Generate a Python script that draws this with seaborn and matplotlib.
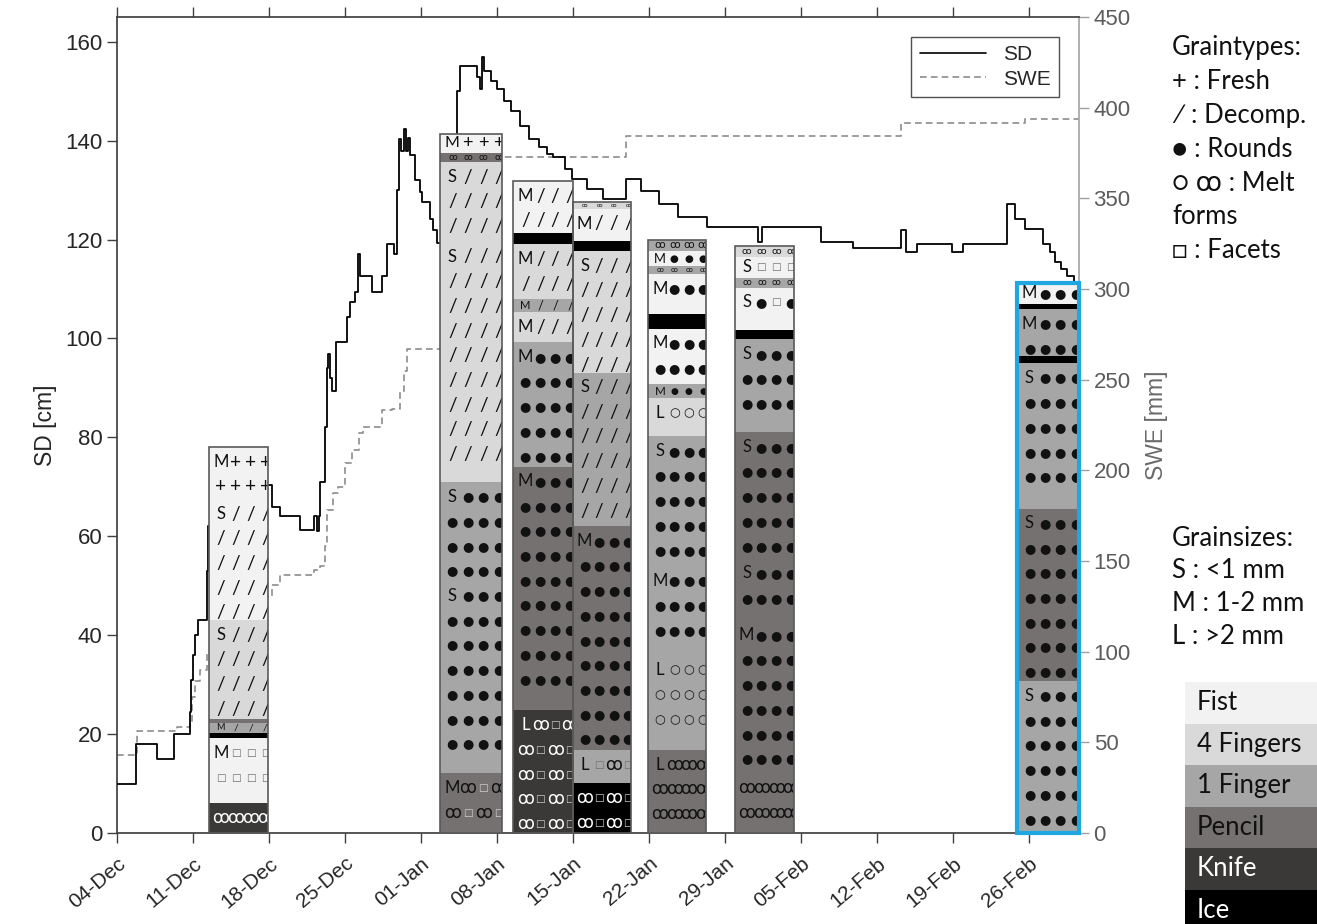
import pandas as pd
import matplotlib
matplotlib.use("Agg")
import matplotlib.pyplot as plt
import matplotlib.dates as mdates
from matplotlib.patches import Rectangle
from matplotlib.lines import Line2D
from matplotlib.transforms import Bbox, TransformedBbox
import seaborn as sns

START = pd.Timestamp("2017-12-04")

# ---- automatic station series (days after 04-Dec) ----
sd_days = [0, 1.75, 3.7, 5.25, 6.7, 6.85, 7.0, 7.2, 7.45, 8.25, 8.4, 9.5, 11.0, 12.5,
           13.8, 14.25, 15.0, 16.85, 18.1, 18.45, 18.6, 18.7, 19.15, 19.3, 19.45, 19.6,
           19.8, 20.2, 21.2, 21.45, 21.9, 22.2, 22.4, 23.5, 24.4, 24.9, 25.5, 25.8, 25.95,
           26.15, 26.4, 26.6, 26.8, 27.0, 27.4, 27.9, 28.1, 28.8, 29.1, 29.5, 31.35, 31.6,
           33.15, 33.4, 33.6, 33.8, 34.4, 35.0, 35.6, 36.3, 37.1, 37.9, 38.9, 39.6, 40.2,
           41.3, 41.9, 43.3, 44.8, 46.9, 48.3, 49.9, 51.7, 54.3, 59.0, 59.4, 64.8, 67.8,
           72.2, 72.7, 73.7, 76.9, 77.9, 82.0, 82.7, 83.6, 85.3, 85.9, 86.4, 86.9, 87.5,
           88.1, 88.6]
sd_cm = [10, 18, 15, 20, 24.5, 31, 36, 40, 43, 53, 62, 67, 70, 71,
         70.4, 66, 64, 61.2, 64, 61, 64, 71, 82, 94, 96.8, 92,
         89.3, 99.2, 104.3, 107.3, 109.4, 117, 112.6, 109.3, 112.6, 119, 117, 130, 140.3,
         138, 142.4, 138, 140.5, 137, 132, 129.6, 127.5, 124.2, 122, 119.4, 150, 155,
         152.8, 150.4, 157, 154, 152, 150.4, 148, 146, 143, 140.3, 138.7, 137.3, 136.7,
         134.3, 132.2, 130.2, 128.2, 132.2, 129.8, 127.2, 124.5, 122.5, 119.5, 122.5, 119.5, 118.3,
         122, 117.4, 119, 117.4, 119, 127.2, 124.2, 122.1, 119, 117.4, 115.4, 114, 112.6,
         111, 111]

swe_days = [0, 1.8, 5.5, 6.7, 6.95, 7.2, 7.6, 8.3, 10, 12, 14.3, 15.0, 18.1, 18.7, 19.2,
            19.3, 19.9, 20.4, 21.0, 21.6, 22.3, 22.7, 24.4, 25.3, 26.1, 26.4, 26.7, 29.6,
            31.4, 46.9, 72.2, 83.6, 88.6]
swe_mm = [43, 56, 58.5, 61, 75, 84, 90, 100, 118, 130, 137, 142.3, 145, 147, 158,
          178, 187.5, 191, 204, 211, 220.6, 224, 233, 234, 244, 255, 267, 267,
          373, 384.5, 391.6, 394, 394]

# ---- hand hardness classes ----
hardness_codes = ["F", "4F", "1F", "P", "K", "I"]
hardness_names = ["Fist", "4 Fingers", "1 Finger", "Pencil", "Knife", "Ice"]
hardness_colors = ["#f2f2f2", "#d9d9d9", "#a6a6a6", "#767171", "#3b3838", "#000000"]

# ---- manual snow profiles: (bottom cm, top cm, hardness, grain size, grain symbols) ----
profile_start_days = [8.45, 29.75, 36.5, 42.0, 48.95, 56.9, 82.9]
profile_width_days = [5.5, 5.7, 5.5, 5.35, 5.3, 5.45, 5.7]
profile_highlight = [False, False, False, False, False, False, True]

layers_dec12 = [(0, 6, "K", "", "ꝏ"), (6, 19.2, "F", "M", "□"), (19.2, 20.2, "I", "", ""),
                (20.2, 22.3, "1F", "M", "/"), (22.3, 23.0, "P", "", ""),
                (23.0, 43.0, "4F", "S", "/"), (43.0, 67.5, "F", "S", "/"),
                (67.5, 78.0, "F", "M", "+")]
layers_jan02 = [(0, 12.1, "P", "M", "ꝏ□"), (12.1, 51.0, "1F", "S", "●"),
                (51.0, 71.0, "1F", "S", "●"), (71.0, 119.5, "4F", "S", "/"),
                (119.5, 135.6, "4F", "S", "/"), (135.6, 137.6, "P", "", "ꝏ"),
                (137.6, 141.3, "F", "M", "+")]
layers_jan09 = [(0, 24.8, "K", "L", "ꝏ□"), (24.8, 74.1, "P", "M", "●"),
                (74.1, 99.2, "1F", "M", "●"), (99.2, 105.3, "4F", "M", "/"),
                (105.3, 107.9, "1F", "M", "/"), (107.9, 119.0, "4F", "M", "/"),
                (119.0, 121.4, "I", "", ""), (121.4, 131.8, "F", "M", "/")]
layers_jan15 = [(0, 10.1, "I", "", "ꝏ□"), (10.1, 16.8, "1F", "L", "□ꝏ"),
                (16.8, 62.0, "P", "M", "●"), (62.0, 93.1, "1F", "S", "/"),
                (93.1, 117.6, "4F", "S", "/"), (117.6, 119.8, "I", "", ""),
                (119.8, 126.2, "F", "M", "/"), (126.2, 127.5, "4F", "", "ꝏ")]
layers_jan22 = [(0, 16.8, "P", "L", "ꝏ"), (16.8, 36.0, "1F", "L", "○"),
                (36.0, 54.0, "1F", "M", "●"), (54.0, 80.2, "1F", "S", "●"),
                (80.2, 88.0, "4F", "L", "○"), (88.0, 90.7, "1F", "M", "●"),
                (90.7, 102.0, "F", "M", "●"), (102.0, 104.9, "I", "", ""),
                (104.9, 113.0, "F", "M", "●"), (113.0, 114.6, "1F", "", "ꝏ"),
                (114.6, 117.6, "F", "M", "●"), (117.6, 120.0, "1F", "", "ꝏ")]
layers_jan30 = [(0, 12.0, "P", "", "ꝏ"), (12.0, 43.0, "P", "M", "●"),
                (43.0, 55.5, "P", "S", "●"), (55.5, 81.0, "P", "S", "●"),
                (81.0, 99.8, "1F", "S", "●"), (99.8, 101.8, "I", "", ""),
                (101.8, 110.3, "F", "S", "●□"), (110.3, 112.3, "1F", "", "ꝏ"),
                (112.3, 116.4, "F", "S", "□"), (116.4, 118.6, "4F", "", "ꝏ")]
layers_feb25 = [(0, 30.8, "1F", "S", "●"), (30.8, 65.6, "P", "S", "●"),
                (65.6, 95.0, "1F", "S", "●"), (95.0, 96.5, "I", "", ""),
                (96.5, 106.0, "1F", "M", "●"), (106.0, 106.9, "I", "", ""),
                (106.9, 111.3, "F", "M", "●")]
profile_layers = [layers_dec12, layers_jan02, layers_jan09, layers_jan15,
                  layers_jan22, layers_jan30, layers_feb25]

graintype_lines = ["Graintypes:", "+ : Fresh", "∕ : Decomp.", "● : Rounds",
                   "○ ꝏ : Melt", "forms", "□ : Facets"]
grainsize_lines = ["Grainsizes:", "S : <1 mm", "M : 1-2 mm", "L : >2 mm"]

# ---------------------------------------------------------------------------
W, H = 1317, 924
sns.set_theme(style="ticks")
plt.rcParams["font.family"] = ["Liberation Sans", "DejaVu Sans"]
side_font = ["Lato", "DejaVu Sans", "Noto Sans"]
letter_font = ["Lato", "DejaVu Sans", "Noto Sans"]
shape_font = ["DejaVu Sans", "Noto Sans"]

fig = plt.figure(figsize=(W / 100, H / 100), dpi=100)
ax = fig.add_axes([117 / W, 1 - 833 / H, (1079 - 117) / W, (833 - 17) / H])
ax2 = ax.twinx()
ax.set_zorder(ax2.get_zorder() + 1)
ax.patch.set_visible(False)

to_date = lambda d: START + pd.Timedelta(days=float(d))
sd_df = pd.DataFrame({"date": [to_date(d) for d in sd_days], "sd": sd_cm})
swe_df = pd.DataFrame({"date": [to_date(d) for d in swe_days], "swe": swe_mm})

sns.lineplot(data=sd_df, x="date", y="sd", ax=ax, color="black", lw=1.3,
             drawstyle="steps-post", estimator=None, sort=False, zorder=3)
sns.lineplot(data=swe_df, x="date", y="swe", ax=ax2, color="#8c8c8c", lw=1.2,
             drawstyle="steps-post", estimator=None, sort=False)
ax2.lines[-1].set_dashes([4, 2.5])

# glyph styling inside the profiles: (font list, size factor)
glyph_style = {"●": (shape_font, 0.78), "○": (shape_font, 0.74), "□": (shape_font, 0.62),
               "ꝏ": (shape_font, 1.0), "/": (letter_font, 1.15), "+": (letter_font, 1.15)}

# ---- snow profiles ----
color_of = dict(zip(hardness_codes, hardness_colors))
col_frac = [0.2, 0.45, 0.7, 0.95]
for d0, w, layers, hl in zip(profile_start_days, profile_width_days,
                             profile_layers, profile_highlight):
    x0 = mdates.date2num(to_date(d0))
    top = max(l[1] for l in layers)
    clip = TransformedBbox(Bbox([[x0, 0], [x0 + w, top]]), ax.transData)
    for b, t, h, size, grains in layers:
        ax.bar(x0, t - b, bottom=b, width=w, align="edge", color=color_of[h],
               linewidth=0, zorder=4)
        if not grains:
            continue
        tc = "white" if h in ("K", "I") else "#111111"
        box_c = "#d0d0d0" if h in ("P", "K", "I") else "#707070"
        thick = t - b
        if thick < 5.5:
            rows, fs = [(b + t) / 2], min(12.0, thick * 3.1)
        else:
            rows, fs = [], 12.0
            y = t - 3.0
            while y >= b + 1.5 - 1e-6:
                rows.append(y)
                y -= 5.0
        for r, y in enumerate(rows):
            chars = [grains[i % len(grains)] for i in range(4)]
            if r == 0 and size:
                chars = [size] + chars[:3]
            for c, f in zip(chars, col_frac):
                fam, k = glyph_style.get(c, (letter_font, 1.0))
                txt = ax.text(x0 + f * w, y, c, ha="center", va="center",
                              color=box_c if c == "□" else tc,
                              fontsize=fs * k, family=fam, zorder=5)
                txt.set_clip_box(clip)
                txt.set_clip_on(True)
    ax.add_patch(Rectangle((x0, 0), w, top, fill=False,
                           ec="#1ea7e1" if hl else "#5a5a5a",
                           lw=3 if hl else 1.2, zorder=6, clip_on=False))

# ---- axes formatting ----
xmin, xmax = mdates.date2num(START), mdates.date2num(to_date(88.6))
ax.set_xlim(xmin, xmax)
ax.set_ylim(0, 165)
ax2.set_ylim(0, 450)
ticks = [to_date(7 * k) for k in range(13)]
ax.set_xticks(ticks)
ax.xaxis.set_major_formatter(mdates.DateFormatter("%d-%b"))
ax.set_yticks(range(0, 161, 20))
ax2.set_yticks(range(0, 451, 50))
for lab in ax.get_xticklabels():
    lab.set_rotation(40)
    lab.set_ha("right")
    lab.set_rotation_mode("anchor")
ax.tick_params(axis="x", top=True, direction="out", length=7, width=1,
               colors="#404040", labelsize=15, labelcolor="#262626", pad=8)
ax.tick_params(axis="y", direction="out", length=7, width=1, colors="#404040",
               labelsize=16, labelcolor="#262626")
ax2.tick_params(axis="y", direction="out", length=7, width=1, colors="#a0a0a0",
                labelsize=16, labelcolor="#5c5c5c")
ax.set_xlabel("")
ax.set_ylabel("SD [cm]", fontsize=16.5, color="#262626", labelpad=6)
ax2.set_ylabel("SWE [mm]", fontsize=16.5, color="#6a6a6a", labelpad=10)
for side in ("left", "top", "bottom"):
    ax.spines[side].set_color("#404040")
    ax.spines[side].set_visible(True)
    ax2.spines[side].set_visible(False)
ax.spines["right"].set_visible(False)
ax2.spines["right"].set_color("#a6a6a6")

handles = [Line2D([], [], color="black", lw=1.2),
           Line2D([], [], color="#8c8c8c", lw=1.2, dashes=[4, 2.5])]
leg = ax.legend(handles, ["SD", "SWE"], loc="upper right",
                bbox_to_anchor=(1 - 20 / 962, 1 - 20 / 816), fontsize=15,
                frameon=True, fancybox=False, edgecolor="#262626",
                handlelength=3.2, borderpad=0.4, labelspacing=0.25, borderaxespad=0)
leg.get_frame().set_linewidth(1.0)
leg.set_zorder(10)

# ---- side annotations ----
side_fs = 18.5
for i, line in enumerate(graintype_lines):
    fig.text(1172 / W, 1 - (48 + 33.8 * i) / H, line, fontsize=side_fs,
             family=side_font, va="center", ha="left", color="#111111")
for i, line in enumerate(grainsize_lines):
    fig.text(1172 / W, 1 - (538 + 32.8 * i) / H, line, fontsize=side_fs,
             family=side_font, va="center", ha="left", color="#111111")
row_h = 41.5
for i, (name, col) in enumerate(zip(hardness_names, hardness_colors)):
    ytop = 682 + i * row_h
    fig.add_artist(Rectangle((1185 / W, 1 - (ytop + row_h) / H), (W - 1185) / W,
                             row_h / H, transform=fig.transFigure, color=col, lw=0))
    fig.text(1197 / W, 1 - (ytop + row_h / 2) / H, name, fontsize=side_fs,
             family=side_font, va="center", ha="left",
             color="white" if i >= 4 else "#111111")

fig.savefig("out.png", dpi=100)
